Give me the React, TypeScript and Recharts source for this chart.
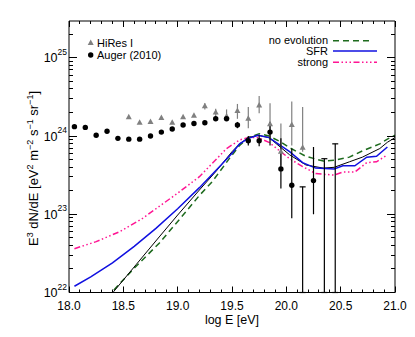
import { ComposedChart, ErrorBar, Line, Scatter, XAxis, YAxis } from "recharts";

// all flux values are log10(E^3 dN/dE [eV^2 m^-2 s^-1 sr^-1])
const augerE = [18.05, 18.15, 18.25, 18.35, 18.45, 18.55, 18.65, 18.75, 18.85, 18.95, 19.05, 19.15, 19.25, 19.35, 19.45, 19.55, 19.65, 19.75, 19.85, 19.95, 20.05, 20.25];
const augerFlux = [24.12, 24.11, 24.01, 24.06, 23.97, 23.96, 23.96, 24.0, 24.05, 24.09, 24.14, 24.16, 24.17, 24.22, 24.22, 24.14, 23.94, 23.94, 24.05, 23.58, 23.37, 23.43];
const augerLow = [24.12, 24.11, 24.01, 24.06, 23.97, 23.96, 23.96, 24.0, 24.05, 24.09, 24.14, 24.16, 24.17, 24.22, 24.2, 24.1, 23.88, 23.87, 23.88, 23.33, 22.95, 23.0];
const augerHigh = [24.12, 24.11, 24.01, 24.06, 23.97, 23.96, 23.96, 24.0, 24.05, 24.09, 24.14, 24.16, 24.17, 24.22, 24.24, 24.18, 24.0, 24.01, 24.18, 23.97, 23.84, 23.86];

// Auger bins with only an upper end (bar runs down off the plot)
const augerLimitE = [20.15, 20.35, 20.45];
const augerLimitTop = [23.35, 23.71, 23.9];

const hiresE = [18.55, 18.65, 18.75, 18.85, 18.95, 19.05, 19.15, 19.25, 19.35, 19.45, 19.55, 19.65, 19.75, 19.85, 19.95, 20.05, 20.15];
const hiresFlux = [24.24, 24.17, 24.18, 24.23, 24.17, 24.24, 24.26, 24.38, 24.3, 24.25, 24.32, 24.22, 24.39, 24.15, 23.8, 24.14, 23.85];
const hiresLow = [24.24, 24.17, 24.18, 24.23, 24.17, 24.24, 24.26, 24.34, 24.24, 24.2, 24.22, 24.1, 24.29, 23.95, 23.62, 23.88, 23.8];
const hiresHigh = [24.24, 24.17, 24.18, 24.23, 24.17, 24.24, 24.26, 24.42, 24.35, 24.34, 24.41, 24.37, 24.51, 24.42, 24.16, 24.44, 24.37];

const noEvoE = [18.35, 18.6, 18.83, 19.02, 19.2, 19.32, 19.48, 19.57, 19.65, 19.75, 19.84, 19.94, 20.03, 20.18, 20.34, 20.44, 20.58, 20.7, 20.86, 20.93, 21.0];
const noEvoFlux = [21.94, 22.31, 22.63, 22.94, 23.24, 23.42, 23.72, 23.88, 23.98, 24.03, 24.0, 23.93, 23.85, 23.74, 23.68, 23.69, 23.73, 23.81, 23.9, 23.96, 24.01];

const sfrE = [18.05, 18.2, 18.4, 18.6, 18.8, 19.0, 19.2, 19.4, 19.5, 19.57, 19.65, 19.74, 19.84, 20.03, 20.15, 20.27, 20.44, 20.52, 20.63, 20.74, 20.83, 20.93];
const sfrFlux = [22.08, 22.2, 22.38, 22.59, 22.82, 23.07, 23.34, 23.63, 23.78, 23.9, 23.97, 24.01, 23.98, 23.8, 23.66, 23.59, 23.58, 23.62, 23.62, 23.73, 23.74, 23.86];

const strongE = [18.05, 18.25, 18.47, 18.68, 18.83, 19.0, 19.2, 19.45, 19.57, 19.65, 19.74, 19.84, 20.03, 20.15, 20.27, 20.44, 20.52, 20.63, 20.74, 20.83, 20.93];
const strongFlux = [22.56, 22.65, 22.78, 22.95, 23.1, 23.27, 23.48, 23.84, 23.95, 23.98, 23.98, 23.92, 23.71, 23.61, 23.52, 23.5, 23.54, 23.54, 23.66, 23.67, 23.76];

const blackE = [18.35, 18.41, 18.62, 18.83, 19.0, 19.2, 19.36, 19.5, 19.57, 19.65, 19.74, 19.84, 20.03, 20.18, 20.34, 20.44, 20.58, 20.7, 20.86, 20.93, 21.0];
const blackFlux = [21.91, 22.01, 22.36, 22.71, 22.99, 23.31, 23.56, 23.8, 23.9, 23.98, 24.01, 23.98, 23.76, 23.63, 23.59, 23.6, 23.67, 23.73, 23.84, 23.92, 23.98];

const Y_MIN = 22;
const Y_MAX = 25.47;
const xTicks = Array.from({ length: 31 }, (_, i) => Math.round((18 + i * 0.1) * 10) / 10);
const yTicks: number[] = [];
for (let d = 22; d <= 25; d++) {
  for (let k = 1; k <= 9; k++) {
    const v = d + Math.log10(k);
    if (v <= Y_MAX) yTicks.push(v);
  }
}

const toPoints = (xs: number[], ys: number[]) => xs.map((x, i) => ({ x, y: ys[i] }));
const withErr = (xs: number[], ys: number[], lo: number[], hi: number[]) =>
  xs.map((x, i) => ({ x, y: ys[i], err: [ys[i] - lo[i], hi[i] - ys[i]] }));

const augerData = withErr(augerE, augerFlux, augerLow, augerHigh);
const augerLimitData = augerLimitE.map((x, i) => ({ x, y: augerLimitTop[i], err: [augerLimitTop[i] - Y_MIN, 0] }));
const hiresData = withErr(hiresE, hiresFlux, hiresLow, hiresHigh);

const FONT = "'Liberation Sans', Arial, sans-serif";
const isMajorX = (v: number) => Math.abs(v * 2 - Math.round(v * 2)) < 1e-6;
const isMajorY = (v: number) => Math.abs(v - Math.round(v)) < 1e-6;
const crisp = (v: number) => Math.round(v - 0.5) + 0.5;

function BottomTick(props: any) {
  const x = Number(props.x);
  const y = Number(props.y);
  const v = props.payload.value;
  const major = isMajorX(v);
  return (
    <g>
      <path d={`M${crisp(x)},${y}V${y - (major ? 6 : 3)}`} stroke="#000" fill="none" />
      {major && (
        <text x={x} y={y + 17.5} textAnchor="middle" fontSize={12} fontFamily={FONT} fill="#000">
          {v.toFixed(1)}
        </text>
      )}
    </g>
  );
}

function TopTick(props: any) {
  const x = Number(props.x);
  const y = Number(props.y);
  const major = isMajorX(props.payload.value);
  return <path d={`M${crisp(x)},${y}V${y + (major ? 6 : 3)}`} stroke="#000" fill="none" />;
}

function LeftTick(props: any) {
  const x = Number(props.x);
  const y = Number(props.y);
  const v = props.payload.value;
  const major = isMajorY(v);
  return (
    <g>
      <path d={`M${x},${crisp(y)}H${x + (major ? 8 : 4)}`} stroke="#000" fill="none" />
      {major && (
        <text x={x - 2} y={y + 4.5} textAnchor="end" fontSize={12.5} fontFamily={FONT} fill="#000">
          10
          <tspan dy={-7.5} fontSize={8.5}>
            {Math.round(v)}
          </tspan>
        </text>
      )}
    </g>
  );
}

function RightTick(props: any) {
  const x = Number(props.x);
  const y = Number(props.y);
  const major = isMajorY(props.payload.value);
  return <path d={`M${x},${crisp(y)}H${x - (major ? 8 : 4)}`} stroke="#000" fill="none" />;
}

const Triangle = ({ cx, cy, fill }: any) => (
  <polygon points={`${cx},${cy - 3.5} ${cx - 3},${cy + 2} ${cx + 3},${cy + 2}`} fill={fill} />
);
const Dot = ({ cx, cy }: any) => <circle cx={cx} cy={cy} r={2.7} fill="#000" />;
const NoMark = () => <g />;

const GREEN = "#1e6b1e";
const BLUE = "#1010e0";
const PINK = "#ff1493";
const GRAY = "#808080";
const PINK_DASH = "6 2.5 1.5 2.5 1.5 2.5 1.5 2.5";

export default function App() {
  return (
    <div style={{ position: "absolute", left: 0, top: 0, width: 415, height: 337, background: "#fff" }}>
      <ComposedChart width={415} height={337} margin={{ top: 20, right: 19, bottom: 0, left: 0 }}>
        <XAxis
          xAxisId="b"
          type="number"
          dataKey="x"
          domain={[18, 21]}
          ticks={xTicks}
          interval={0}
          allowDataOverflow
          height={44.5}
          tickSize={0}
          tickMargin={0}
          tick={<BottomTick />}
          stroke="#000"
        />
        <XAxis
          xAxisId="t"
          orientation="top"
          type="number"
          dataKey="x"
          domain={[18, 21]}
          ticks={xTicks}
          interval={0}
          allowDataOverflow
          height={1}
          tickSize={0}
          tickMargin={0}
          tick={<TopTick />}
          stroke="#000"
        />
        <YAxis
          yAxisId="l"
          type="number"
          dataKey="y"
          domain={[Y_MIN, Y_MAX]}
          ticks={yTicks}
          interval={0}
          allowDataOverflow
          width={69}
          tickSize={0}
          tickMargin={0}
          tick={<LeftTick />}
          stroke="#000"
        />
        <YAxis
          yAxisId="r"
          orientation="right"
          type="number"
          dataKey="y"
          domain={[Y_MIN, Y_MAX]}
          ticks={yTicks}
          interval={0}
          allowDataOverflow
          width={1}
          tickSize={0}
          tickMargin={0}
          tick={<RightTick />}
          stroke="#000"
        />
        {/* invisible copy so the mirrored top/right axes have a series */}
        <Line xAxisId="t" yAxisId="r" data={toPoints(blackE, blackFlux)} dataKey="y" stroke="none" dot={false} legendType="none" isAnimationActive={false} />
        <Line xAxisId="b" yAxisId="l" data={toPoints(strongE, strongFlux)} dataKey="y" stroke={PINK} strokeWidth={1.5} strokeDasharray={PINK_DASH} dot={false} isAnimationActive={false} />
        <Line xAxisId="b" yAxisId="l" data={toPoints(noEvoE, noEvoFlux)} dataKey="y" stroke={GREEN} strokeWidth={1.5} strokeDasharray="6 4" dot={false} isAnimationActive={false} />
        <Line xAxisId="b" yAxisId="l" data={toPoints(blackE, blackFlux)} dataKey="y" stroke="#000" strokeWidth={1} dot={false} isAnimationActive={false} />
        <Line xAxisId="b" yAxisId="l" data={toPoints(sfrE, sfrFlux)} dataKey="y" stroke={BLUE} strokeWidth={1.5} dot={false} isAnimationActive={false} />
        <Scatter xAxisId="b" yAxisId="l" data={hiresData} dataKey="y" fill={GRAY} shape={<Triangle />} isAnimationActive={false}>
          <ErrorBar dataKey="err" direction="y" width={0} stroke={GRAY} strokeWidth={1.2} />
        </Scatter>
        <Scatter xAxisId="b" yAxisId="l" data={augerData} dataKey="y" fill="#000" shape={<Dot />} isAnimationActive={false}>
          <ErrorBar dataKey="err" direction="y" width={0} stroke="#000" strokeWidth={1.2} />
        </Scatter>
        <Scatter xAxisId="b" yAxisId="l" data={augerLimitData} dataKey="y" fill="#000" shape={<NoMark />} isAnimationActive={false}>
          <ErrorBar dataKey="err" direction="y" width={3} stroke="#000" strokeWidth={1.2} />
        </Scatter>
      </ComposedChart>
      <svg
        width={415}
        height={337}
        style={{ position: "absolute", left: 0, top: 0, pointerEvents: "none" }}
        fontFamily={FONT}
      >
        <Triangle cx={90.7} cy={43} fill={GRAY} />
        <text x={97} y={46.5} fontSize={11}>HiRes I</text>
        <circle cx={90.7} cy={55} r={2.7} fill="#000" />
        <text x={97} y={58.8} fontSize={11}>Auger (2010)</text>

        <text x={328} y={44.3} fontSize={11} textAnchor="end">no evolution</text>
        <line x1={333} x2={373} y1={40.7} y2={40.7} stroke={GREEN} strokeWidth={1.5} strokeDasharray="6 4" />
        <text x={328} y={55} fontSize={11} textAnchor="end">SFR</text>
        <line x1={333} x2={377} y1={51} y2={51} stroke={BLUE} strokeWidth={1.5} />
        <text x={328} y={65.7} fontSize={11} textAnchor="end">strong</text>
        <line x1={333} x2={377} y1={62.3} y2={62.3} stroke={PINK} strokeWidth={1.5} strokeDasharray={PINK_DASH} />

        <text x={232} y={324} fontSize={12.5} textAnchor="middle">log E [eV]</text>
        <text transform="translate(38,168.5) rotate(-90)" fontSize={13} textAnchor="middle">
          E<tspan dy={-5} fontSize={9}>3</tspan>
          <tspan dy={5}> dN/dE [eV</tspan>
          <tspan dy={-5} fontSize={9}>2</tspan>
          <tspan dy={5}> m</tspan>
          <tspan dy={-5} fontSize={9}>−2</tspan>
          <tspan dy={5}> s</tspan>
          <tspan dy={-5} fontSize={9}>−1</tspan>
          <tspan dy={5}> sr</tspan>
          <tspan dy={-5} fontSize={9}>−1</tspan>
          <tspan dy={5}>]</tspan>
        </text>
      </svg>
    </div>
  );
}
